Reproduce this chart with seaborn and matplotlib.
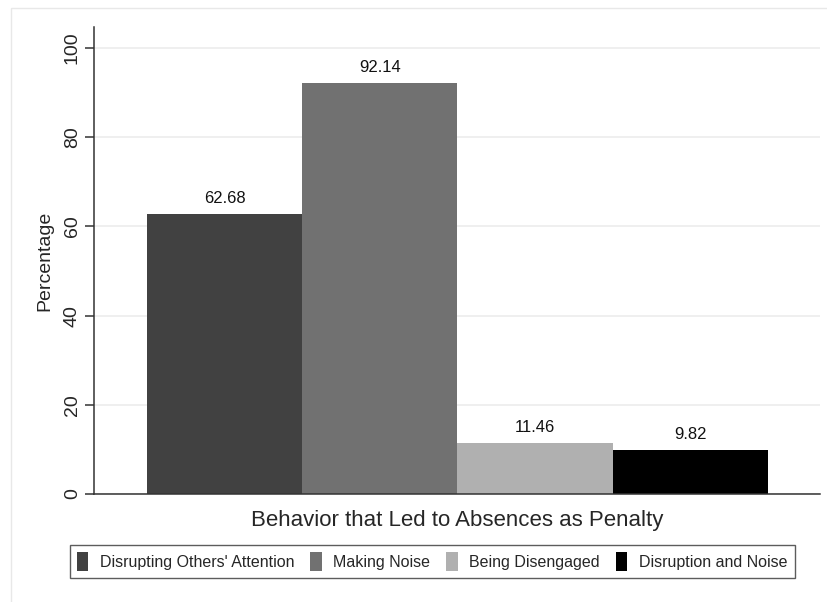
import matplotlib
matplotlib.use("Agg")
import matplotlib.pyplot as plt
import matplotlib.patches as mpatches
import pandas as pd
import seaborn as sns

# Data
behaviors = [
    "Disrupting Others' Attention",
    "Making Noise",
    "Being Disengaged",
    "Disruption and Noise",
]
percentages = [62.68, 92.14, 11.46, 9.82]
bar_colors = ["#414141", "#717171", "#b0b0b0", "#000000"]
y_ticks = [0, 20, 40, 60, 80, 100]

df = pd.DataFrame({"Behavior": behaviors, "Percentage": percentages})

sns.set_theme(style="white")
plt.rcParams["font.family"] = ["Liberation Sans", "DejaVu Sans"]

fig = plt.figure(figsize=(8.28, 6.02), dpi=100)
ax = fig.add_axes([94 / 828, 1 - 494 / 602, 726 / 828, 467 / 602])

sns.barplot(
    data=df, x="Behavior", y="Percentage", hue="Behavior",
    palette=bar_colors, width=1, dodge=False, saturation=1,
    legend=True, ax=ax, linewidth=0,
)

# value labels above bars
for container in ax.containers:
    ax.bar_label(container, fmt="%.2f", padding=6, fontsize=12, color="#111111")

ax.set_xlim(-0.841, 3.837)
ax.set_ylim(0, 104.7)
ax.set_yticks(y_ticks)
ax.set_yticklabels([str(t) for t in y_ticks], rotation=90, va="center", fontsize=14)
ax.set_xticks([])
ax.tick_params(axis="y", which="major", left=True, length=6.5, width=1.1,
               color="#333333", pad=3)

ax.yaxis.grid(True, color="#eeeeee", linewidth=1.3)
ax.set_axisbelow(True)

for side in ["top", "right"]:
    ax.spines[side].set_visible(False)
for side in ["left", "bottom"]:
    ax.spines[side].set_color("#333333")
    ax.spines[side].set_linewidth(1.1)

ax.set_xlabel("Behavior that Led to Absences as Penalty", fontsize=16, labelpad=11.5)
ax.set_ylabel("Percentage", fontsize=14)
ax.yaxis.set_label_coords(-0.056, 0.5)

handles, labels = ax.get_legend_handles_labels()
ax.get_legend().remove()
leg = fig.legend(
    handles, labels, loc="center", bbox_to_anchor=(0.522, 0.067), ncol=4,
    fontsize=11.5, frameon=True, fancybox=False, handlelength=0.72,
    handleheight=1.4, handletextpad=0.72, columnspacing=1.0, borderpad=0.45,
)
leg.get_frame().set_edgecolor("#333333")
leg.get_frame().set_linewidth(1.0)

# light outer border of the graph region
fig.patches.append(mpatches.Rectangle(
    (11 / 828, -0.1), 1.0, 1 - 8 / 602 + 0.1, transform=fig.transFigure,
    fill=False, edgecolor="#e8e8e8", linewidth=1.0))

fig.savefig("out.png", dpi=100)
